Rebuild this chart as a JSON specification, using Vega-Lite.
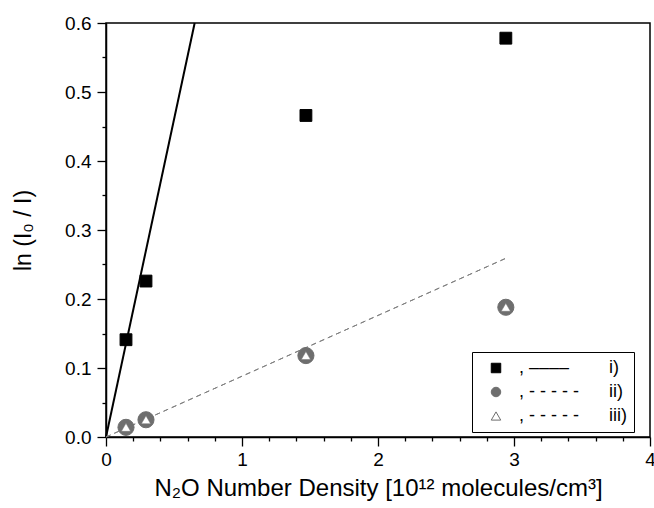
{
  "$schema": "https://vega.github.io/schema/vega-lite/v6.json",
  "width": 544,
  "height": 414,
  "autosize": "none",
  "padding": {"left": 106, "top": 23, "right": 4, "bottom": 71},
  "background": "white",
  "config": {
    "font": "Liberation Sans",
    "view": {"stroke": "#000", "strokeWidth": 1.5},
    "axis": {
      "domainColor": "#000", "domainWidth": 1.5, "tickColor": "#000", "tickWidth": 1.3,
      "labelColor": "#000", "titleColor": "#000", "labelFont": "Liberation Sans", "titleFont": "Liberation Sans",
      "labelFontSize": 19, "titleFontSize": 23, "titleFontWeight": "normal", "grid": false
    },
    "legend": {
      "orient": "none", "legendX": 366, "legendY": 329, "title": null,
      "strokeColor": "#000", "padding": 7, "symbolSize": 90, "symbolStrokeWidth": 1,
      "symbolOffset": 8,
      "rowPadding": 6, "labelFontSize": 18, "labelColor": "#000", "labelOffset": 14,
      "labelLimit": 300, "labelFont": "Liberation Sans"
    }
  },
  "datasets": {
    "pts": [
      {"x": 0.147, "y": 0.141, "series": "i)"},
      {"x": 0.294, "y": 0.226, "series": "i)"},
      {"x": 1.47, "y": 0.466, "series": "i)"},
      {"x": 2.94, "y": 0.578, "series": "i)"},
      {"x": 0.147, "y": 0.014, "series": "ii)"},
      {"x": 0.294, "y": 0.025, "series": "ii)"},
      {"x": 1.47, "y": 0.118, "series": "ii)"},
      {"x": 2.94, "y": 0.188, "series": "ii)"},
      {"x": 0.147, "y": 0.014, "series": "iii)"},
      {"x": 0.294, "y": 0.025, "series": "iii)"},
      {"x": 1.47, "y": 0.118, "series": "iii)"},
      {"x": 2.94, "y": 0.188, "series": "iii)"}
    ],
    "fits": [
      {"x": 0, "y": 0, "series": "i)"},
      {"x": 0.652, "y": 0.6, "series": "i)"},
      {"x": 0, "y": 0, "series": "ii)"},
      {"x": 2.94, "y": 0.259, "series": "ii)"},
      {"x": 0, "y": 0, "series": "iii)"},
      {"x": 2.94, "y": 0.259, "series": "iii)"}
    ]
  },
  "encoding": {
    "x": {
      "field": "x", "type": "quantitative",
      "scale": {"domain": [0, 4], "nice": false},
      "axis": {
        "title": "N₂O Number Density [10¹² molecules/cm³]",
        "titleFontSize": 24,
        "values": [0,0.2,0.4,0.6,0.8,1,1.2,1.4,1.6,1.8,2,2.2,2.4,2.6,2.8,3,3.2,3.4,3.6,3.8,4],
        "labelExpr": "abs(datum.value - round(datum.value)) < 1e-6 ? format(datum.value, 'd') : ''",
        "tickSize": {"condition": {"test": "abs(datum.value - round(datum.value)) < 1e-6", "value": 9}, "value": 4},
        "labelPadding": 4, "titlePadding": 7, "labelFlush": false
      }
    },
    "y": {
      "field": "y", "type": "quantitative",
      "scale": {"domain": [0, 0.6], "nice": false},
      "axis": {
        "title": "ln (I₀ / I)",
        "values": [0,0.05,0.1,0.15,0.2,0.25,0.3,0.35,0.4,0.45,0.5,0.55,0.6],
        "labelExpr": "abs(datum.value*10 - round(datum.value*10)) < 1e-6 ? format(datum.value, '.1f') : ''",
        "tickSize": {"condition": {"test": "abs(datum.value*10 - round(datum.value*10)) < 1e-6", "value": 9}, "value": 4},
        "labelPadding": 6, "titlePadding": 29, "labelFlush": false
      }
    }
  },
  "layer": [
    {
      "data": {"name": "fits"},
      "transform": [{"filter": "datum.series == 'i)'"}],
      "mark": {"type": "line", "stroke": "#000", "strokeWidth": 2},
      "encoding": {}
    },
    {
      "data": {"name": "fits"},
      "transform": [{"filter": "datum.series != 'i)'"}],
      "mark": {"type": "line", "stroke": "#808080", "strokeWidth": 1, "strokeDash": [5, 4]},
      "encoding": {"detail": {"field": "series"}}
    },
    {
      "data": {"name": "pts"},
      "transform": [{"filter": "datum.series == 'ii)'"}],
      "mark": {"type": "point", "filled": true, "opacity": 1, "strokeWidth": 1, "size": 260},
      "encoding": {
        "shape": {"field": "series", "type": "nominal", "scale": {"domain": ["i)", "ii)", "iii)"], "range": ["square", "circle", "triangle-up"]},
          "legend": {"labelExpr": "datum.label == 'i)' ? ',\u00a0––––\u00a0\u00a0\u00a0\u00a0\u00a0\u00a0\u00a0\u00a0i)' : datum.label == 'ii)' ? ',\u00a0-\u00a0-\u00a0-\u00a0-\u00a0-\u00a0\u00a0\u00a0\u00a0\u00a0\u00a0ii)' : ',\u00a0-\u00a0-\u00a0-\u00a0-\u00a0-\u00a0\u00a0\u00a0\u00a0\u00a0\u00a0iii)'"}},
        "fill": {"field": "series", "type": "nominal", "scale": {"domain": ["i)", "ii)", "iii)"], "range": ["#000000", "#6e6e6e", "#ffffff"]},
          "legend": {"labelExpr": "datum.label == 'i)' ? ',\u00a0––––\u00a0\u00a0\u00a0\u00a0\u00a0\u00a0\u00a0\u00a0i)' : datum.label == 'ii)' ? ',\u00a0-\u00a0-\u00a0-\u00a0-\u00a0-\u00a0\u00a0\u00a0\u00a0\u00a0\u00a0ii)' : ',\u00a0-\u00a0-\u00a0-\u00a0-\u00a0-\u00a0\u00a0\u00a0\u00a0\u00a0\u00a0iii)'"}},
        "stroke": {"field": "series", "type": "nominal", "scale": {"domain": ["i)", "ii)", "iii)"], "range": ["#000000", "#6e6e6e", "#6e6e6e"]},
          "legend": {"labelExpr": "datum.label == 'i)' ? ',\u00a0––––\u00a0\u00a0\u00a0\u00a0\u00a0\u00a0\u00a0\u00a0i)' : datum.label == 'ii)' ? ',\u00a0-\u00a0-\u00a0-\u00a0-\u00a0-\u00a0\u00a0\u00a0\u00a0\u00a0\u00a0ii)' : ',\u00a0-\u00a0-\u00a0-\u00a0-\u00a0-\u00a0\u00a0\u00a0\u00a0\u00a0\u00a0iii)'"}}
      }
    },
    {
      "data": {"name": "pts"},
      "transform": [{"filter": "datum.series == 'iii)'"}],
      "mark": {"type": "point", "filled": true, "opacity": 1, "strokeWidth": 0.5, "size": 85},
      "encoding": {
        "shape": {"field": "series", "type": "nominal"},
        "fill": {"field": "series", "type": "nominal"},
        "stroke": {"field": "series", "type": "nominal"}
      }
    },
    {
      "data": {"name": "pts"},
      "transform": [{"filter": "datum.series == 'i)'"}],
      "mark": {"type": "point", "filled": true, "opacity": 1, "strokeWidth": 1, "size": 140},
      "encoding": {
        "shape": {"field": "series", "type": "nominal"},
        "fill": {"field": "series", "type": "nominal"},
        "stroke": {"field": "series", "type": "nominal"}
      }
    }
  ]
}
